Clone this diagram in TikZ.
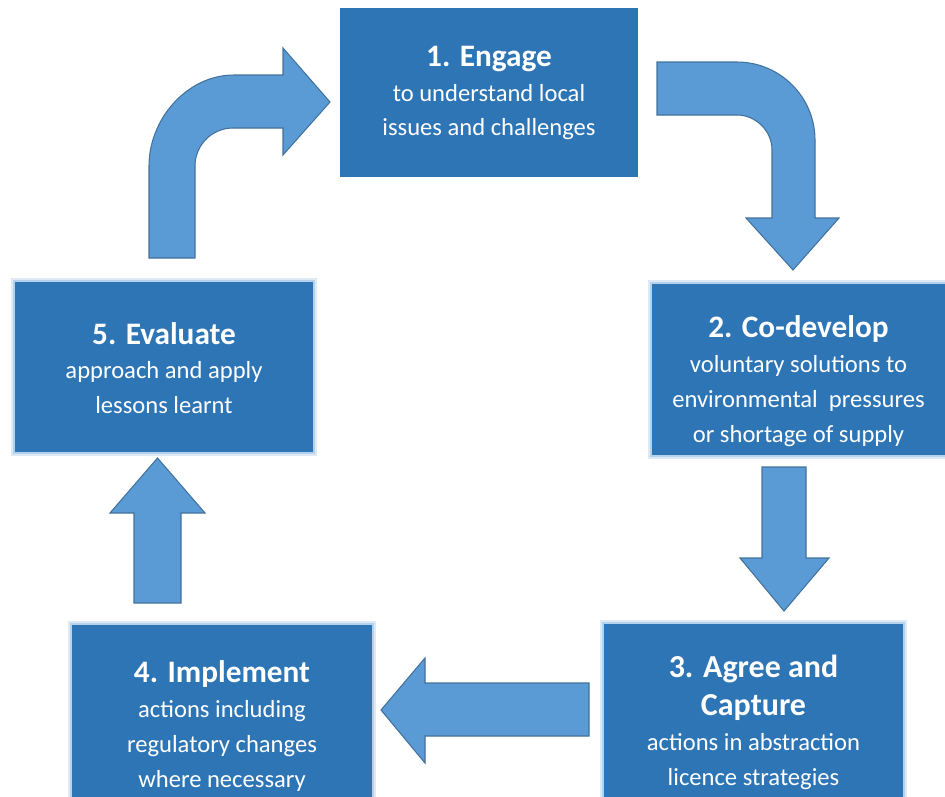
\documentclass[tikz,border=0pt]{standalone}
\usepackage{fontspec}
\setmainfont{Carlito}
\usetikzlibrary{calc}
\definecolor{boxblue}{HTML}{2E75B6}
\definecolor{arrowblue}{HTML}{5B9BD5}
\definecolor{arrowline}{HTML}{41719C}
\definecolor{glowblue}{HTML}{9DC3E6}
\tikzset{
  stage/.style={rectangle, fill=boxblue, draw=none, inner sep=0pt},
  glow/.style={preaction={draw=glowblue!35, line width=5pt},
               preaction={draw=glowblue!75, line width=2.5pt}},
  stagetext/.style={text=white, align=center, inner sep=0pt,
                    font=\fontsize{14}{19.8}\selectfont},
  blockarrow/.style={fill=arrowblue, draw=arrowline, line width=0.6pt, line join=miter},
}
\newcommand{\stagetitle}[1]{{\bfseries\fontsize{17.8}{20}\selectfont #1}}
\newcommand{\bigtitle}[1]{{\bfseries\fontsize{18.2}{24.4}\selectfont #1}}

\begin{document}
\begin{tikzpicture}[x=0.02cm, y=-0.02cm]
            \useasboundingbox (0,0) rectangle (945,796);
            \clip (0,0) rectangle (945,796);
            % boxes
            \node[stage, minimum width=5.96cm, minimum height=3.38cm] (engage) at (489,92.5) {};
            \node[stage, glow, minimum width=5.86cm, minimum height=3.42cm] (codevelop) at (798.5,369.5) {};
            \node[stage, glow, minimum width=5.98cm, minimum height=4.12cm] (agree) at (753.5,727) {};
            \node[stage, glow, minimum width=6cm, minimum height=4.1cm] (implement) at (222,727.5) {};
            \node[stage, glow, minimum width=5.96cm, minimum height=3.4cm] (evaluate) at (164,367) {};
            % texts
            \node[stagetext] (engage-t) at (489,93) {\stagetitle{1. Engage}\\ to understand local\\ issues and challenges};
            \node[stagetext] (codevelop-t) at (798.5,381) {\stagetitle{2. Co-develop}\\ voluntary solutions to\\ environmental\ \ pressures\\ or shortage of supply};
            \node[stagetext] (agree-t) at (753.5,722) {\bigtitle{3. Agree and}\\[2pt] \bigtitle{Capture}\\ actions in abstraction\\ licence strategies};
            \node[stagetext] (implement-t) at (222,726) {\stagetitle{4. Implement}\\ actions including\\ regulatory changes\\ where necessary};
            \node[stagetext] (evaluate-t) at (164,368) {\stagetitle{5. Evaluate}\\ approach and apply\\ lessons learnt};
            % arrows
            \draw[blockarrow] (149,258) -- (149,166) .. controls (149,119) and (187,75) .. (234,75) -- (283,75) -- (283,48)
                -- (330,102) -- (283,155) -- (283,128) -- (233,128) .. controls (212,128) and (195,145) .. (195,166) -- (195,258) -- cycle;
            \draw[blockarrow] (657,62) -- (737,62) .. controls (780,62) and (815,97) .. (815,140) -- (815,218) -- (839,218)
                -- (793,270) -- (746,218) -- (772,218) -- (772,150) .. controls (772,131) and (756,115) .. (737,115) -- (657,115) -- cycle;
            \draw[blockarrow] (762,467) -- (806,467) -- (806,558) -- (829,558) -- (784,611) -- (740,558) -- (762,558) -- cycle;
            \draw[blockarrow] (589,683) -- (589,736) -- (425,736) -- (425,763) -- (381,710) -- (425,658) -- (425,683) -- cycle;
            \draw[blockarrow] (134,603) -- (134,513) -- (110,513) -- (157.5,458) -- (205,513) -- (181,513) -- (181,603) -- cycle;
        \end{tikzpicture}
\end{document}
